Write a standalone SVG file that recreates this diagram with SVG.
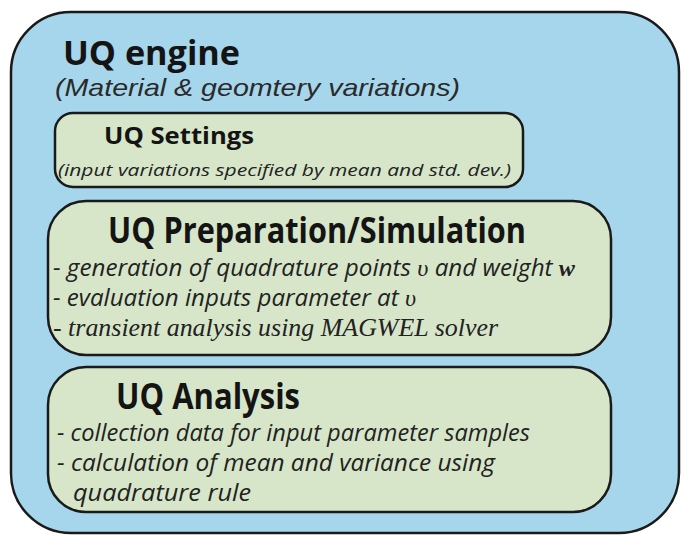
<svg xmlns="http://www.w3.org/2000/svg" width="682" height="537" viewBox="0 0 682 537">
<style>
.box{stroke:#1a1a1a;stroke-width:2.5}
.outer{fill:#a6d6ec}
.inner{fill:#d7e6c9}
.h{font-family:"Open Sans","Noto Sans",sans-serif;font-weight:700;fill:#141414}
.it{font-family:"Open Sans","Noto Sans",sans-serif;font-style:italic;fill:#222}
.ar{font-family:"Liberation Sans",Arial,sans-serif;font-style:italic;fill:#2a2a2a}
.tm{font-family:"Liberation Serif","Times New Roman",serif;font-style:italic;fill:#222}
</style>
<g id="uq-engine">
<rect class="box outer" x="11" y="12" width="668" height="521" rx="60" ry="60"/>
<text class="h" x="63" y="65" font-size="34" textLength="177" lengthAdjust="spacingAndGlyphs">UQ engine</text>
<text class="ar" x="55" y="96" font-size="24" textLength="405" lengthAdjust="spacingAndGlyphs">(Material &amp; geomtery variations)</text>
</g>
<g id="uq-settings">
<rect class="box inner" x="55" y="113" width="468" height="74" rx="18" ry="18"/>
<text class="h" x="104" y="144" font-size="23" textLength="150" lengthAdjust="spacingAndGlyphs">UQ Settings</text>
<text class="it" x="58" y="176" font-size="16" textLength="453" lengthAdjust="spacingAndGlyphs">(input variations specified by mean and std. dev.)</text>
</g>
<g id="uq-preparation">
<rect class="box inner" x="48" y="201" width="563" height="154" rx="38" ry="38"/>
<text class="h" x="108" y="243" font-size="35" textLength="418" lengthAdjust="spacingAndGlyphs">UQ Preparation/Simulation</text>
<text class="it" x="53" y="276" font-size="23" textLength="522" lengthAdjust="spacingAndGlyphs">- generation of quadrature points <tspan class="tm">υ</tspan> and weight <tspan class="tm" font-weight="bold">w</tspan></text>
<text class="it" x="53" y="306" font-size="23" textLength="363" lengthAdjust="spacingAndGlyphs">- evaluation inputs parameter at <tspan class="tm">υ</tspan></text>
<text class="tm" x="53" y="336" font-size="25" textLength="445" lengthAdjust="spacingAndGlyphs">- transient analysis using MAGWEL solver</text>
</g>
<g id="uq-analysis">
<rect class="box inner" x="48" y="367" width="563" height="145" rx="38" ry="38"/>
<text class="h" x="116" y="409" font-size="35" textLength="184" lengthAdjust="spacingAndGlyphs">UQ Analysis</text>
<text class="it" x="57" y="441" font-size="23" textLength="473" lengthAdjust="spacingAndGlyphs">- collection data for input parameter samples</text>
<text class="it" x="57" y="471" font-size="23" textLength="438" lengthAdjust="spacingAndGlyphs">- calculation of mean and variance using</text>
<text class="it" x="73" y="501" font-size="23" textLength="178" lengthAdjust="spacingAndGlyphs">quadrature rule</text>
</g>
<g id="connectors"/>
</svg>
